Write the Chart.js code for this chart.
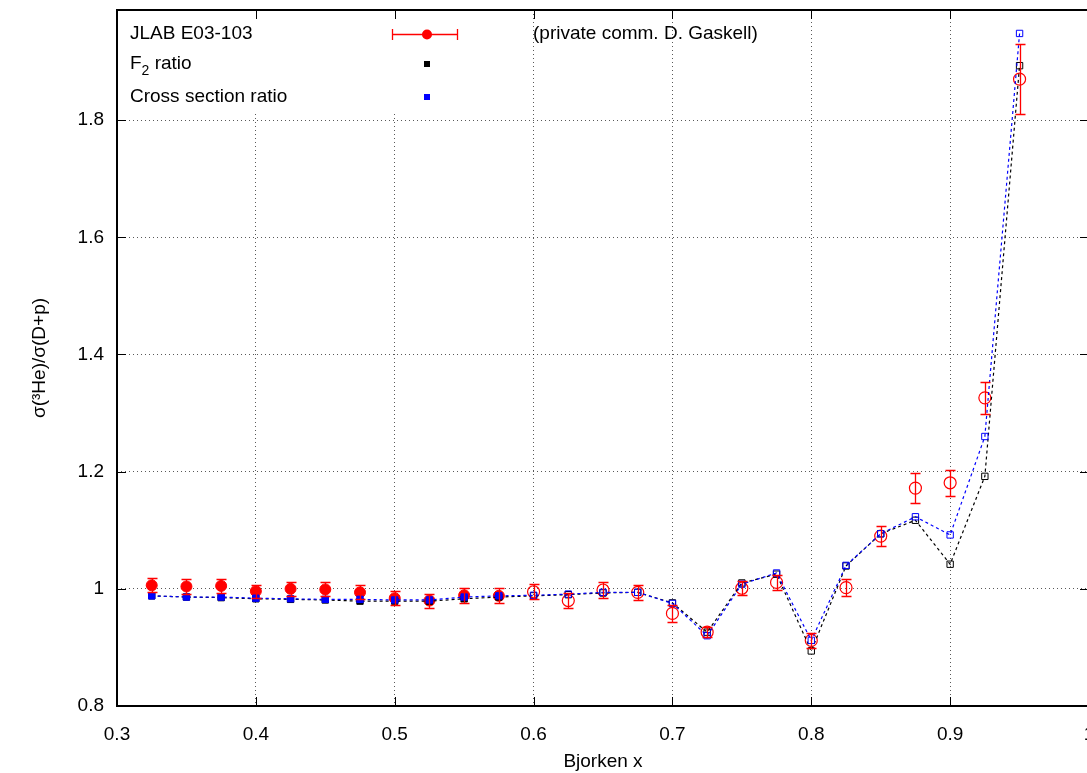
<!DOCTYPE html>
<html>
<head>
<meta charset="utf-8">
<script src="https://cdn.jsdelivr.net/npm/chart.js@4.4.1/dist/chart.umd.min.js"></script>
<style>
  body { margin: 0; overflow: hidden; background: #fff; }
</style>
</head>
<body>
<canvas id="c" width="1100" height="773"></canvas>
<script>
// Bjorken x bins
var bjorkenX = [0.325, 0.35, 0.375, 0.4, 0.425, 0.45, 0.475, 0.5, 0.525, 0.55, 0.575, 0.6, 0.625,
  0.65, 0.675, 0.7, 0.725, 0.75, 0.775, 0.8, 0.825, 0.85, 0.875, 0.9, 0.925, 0.95];
// JLAB E03-103 ratio and its error (filled below x=0.6, open from 0.6 on)
var jlabRatio = [1.006, 1.004, 1.005, 0.996, 1.000, 0.999, 0.994, 0.984, 0.980, 0.989, 0.988, 0.995, 0.980,
  0.998, 0.994, 0.958, 0.926, 1.001, 1.011, 0.912, 1.002, 1.090, 1.172, 1.181, 1.326, 1.870];
var jlabError = [0.012, 0.012, 0.012, 0.011, 0.012, 0.012, 0.012, 0.012, 0.012, 0.013, 0.013, 0.013, 0.013,
  0.013, 0.013, 0.014, 0.009, 0.012, 0.013, 0.013, 0.014, 0.017, 0.026, 0.022, 0.027, 0.060];
var openFrom = 0.6;
// F2 ratio
var f2Ratio = [0.988, 0.986, 0.985, 0.983, 0.982, 0.981, 0.979, 0.979, 0.979, 0.983, 0.986, 0.988, 0.990,
  0.993, 0.994, 0.976, 0.926, 1.010, 1.025, 0.894, 1.039, 1.094, 1.117, 1.042, 1.192, 1.893];
// cross section ratio
var csRatio = [0.988, 0.986, 0.986, 0.984, 0.983, 0.982, 0.982, 0.981, 0.981, 0.986, 0.988, 0.989, 0.991,
  0.994, 0.994, 0.975, 0.920, 1.008, 1.027, 0.912, 1.040, 1.094, 1.123, 1.092, 1.260, 1.948];
// axis ranges
var xTicks = [0.3, 0.4, 0.5, 0.6, 0.7, 0.8, 0.9, 1.0];
var yTicks = [0.8, 1.0, 1.2, 1.4, 1.6, 1.8];
var xMin = 0.3, xMax = 1.0, yMin = 0.8, yMax = 1.988;

var FONT = "'Liberation Sans', Arial, Helvetica, sans-serif";

function points(vals, keep) {
  var out = [];
  bjorkenX.forEach(function (x, i) {
    if (keep(x)) out.push({ x: x, y: vals[i] });
  });
  return out;
}
function errs(keep) {
  return jlabError.filter(function (e, i) { return keep(bjorkenX[i]); });
}
var isFilled = function (x) { return x < openFrom; };
var isOpen = function (x) { return x >= openFrom; };

//white box under the key, covers the grid
var keyMask = {
  id: "keyMask",
  beforeDatasetsDraw(chart) {
    var ctx = chart.ctx, a = chart.chartArea;
    ctx.save();
    ctx.fillStyle = "#fff";
    ctx.fillRect(a.left + 1, a.top + 1, 485 - a.left, 113 - a.top);
    ctx.restore();
  },
};

//error bars of the JLAB points, on top of the lines
var errorBars = {
  id: "errorBars",
  afterDatasetsDraw(chart) {
    var ctx = chart.ctx, xs = chart.scales.x, ys = chart.scales.y;
    ctx.save();
    ctx.setLineDash([]);
    ctx.strokeStyle = "#ff0000";
    ctx.lineWidth = 1.3;
    chart.data.datasets.forEach(function (ds) {
      if (!ds.errors) return;
      ds.data.forEach(function (p, i) {
        var px = Math.round(xs.getPixelForValue(p.x)) + 0.5;
        var top = Math.round(ys.getPixelForValue(p.y + ds.errors[i])) + 0.5;
        var bot = Math.round(ys.getPixelForValue(p.y - ds.errors[i])) + 0.5;
        ctx.beginPath();
        ctx.moveTo(px, top); ctx.lineTo(px, bot);
        ctx.moveTo(px - 5, top); ctx.lineTo(px + 5, top);
        ctx.moveTo(px - 5, bot); ctx.lineTo(px + 5, bot);
        ctx.stroke();
      });
    });
    ctx.restore();
  },
};

//border with inward ticks on all four sides
var frame = {
  id: "frame",
  afterDatasetsDraw(chart) {
    var ctx = chart.ctx, a = chart.chartArea, xs = chart.scales.x, ys = chart.scales.y;
    ctx.save();
    ctx.setLineDash([]);
    ctx.strokeStyle = "#000";
    ctx.lineWidth = 1;
    ctx.beginPath();
    xTicks.forEach(function (v) {
      var px = Math.round(xs.getPixelForValue(v)) + 0.5;
      ctx.moveTo(px, a.bottom); ctx.lineTo(px, a.bottom - 9);
      ctx.moveTo(px, a.top); ctx.lineTo(px, a.top + 9);
    });
    yTicks.forEach(function (v) {
      var py = Math.round(ys.getPixelForValue(v)) + 0.5;
      ctx.moveTo(a.left, py); ctx.lineTo(a.left + 9, py);
      ctx.moveTo(a.right, py); ctx.lineTo(a.right - 9, py);
    });
    ctx.stroke();
    ctx.lineWidth = 2;
    ctx.strokeRect(a.left, a.top, a.right - a.left, a.bottom - a.top);
    ctx.restore();
  },
};

//the key, drawn by hand like gnuplot does it
var key = {
  id: "key",
  afterDraw(chart) {
    var ctx = chart.ctx;
    ctx.save();
    ctx.setLineDash([]);
    ctx.fillStyle = "#000";
    ctx.textBaseline = "middle";
    ctx.font = "19px " + FONT;
    ctx.fillText("JLAB E03-103", 130, 34);
    ctx.fillText("(private comm. D. Gaskell)", 533, 34);
    ctx.fillText("F", 130, 64);
    var fw = ctx.measureText("F").width;
    ctx.font = "14px " + FONT;
    ctx.fillText("2", 130 + fw, 71);
    var sw = ctx.measureText("2").width;
    ctx.font = "19px " + FONT;
    ctx.fillText(" ratio", 130 + fw + sw, 64);
    ctx.fillText("Cross section ratio", 130, 97);

    // red sample with error bar
    ctx.strokeStyle = "#ff0000";
    ctx.lineWidth = 1.3;
    ctx.beginPath();
    ctx.moveTo(392, 34.5); ctx.lineTo(457, 34.5);
    ctx.moveTo(392.5, 29); ctx.lineTo(392.5, 40);
    ctx.moveTo(457.5, 29); ctx.lineTo(457.5, 40);
    ctx.stroke();
    ctx.fillStyle = "#ff0000";
    ctx.beginPath();
    ctx.arc(427, 34.5, 5, 0, Math.PI * 2);
    ctx.fill();
    ctx.fillStyle = "#000";
    ctx.fillRect(424, 61, 6, 6);
    ctx.fillStyle = "#0000ff";
    ctx.fillRect(424, 94, 6, 6);
    ctx.restore();
  },
};

var openOrFill = function (color) {
  return function (c) {
    var p = c.raw;
    return p && p.x < openFrom ? color : "rgba(255,255,255,0)";
  };
};

var data = {
  datasets: [
    {
      label: "JLAB E03-103",
      data: points(jlabRatio, isFilled),
      errors: errs(isFilled),
      showLine: false,
      pointStyle: "circle",
      pointRadius: 5.5,
      pointBackgroundColor: "#ff0000",
      pointBorderColor: "#ff0000",
      pointBorderWidth: 1,
      order: 4,
    },
    {
      label: "(private comm. D. Gaskell)",
      data: points(jlabRatio, isOpen),
      errors: errs(isOpen),
      showLine: false,
      pointStyle: "circle",
      pointRadius: 6,
      pointBackgroundColor: "rgba(255,255,255,0)",
      pointBorderColor: "#ff0000",
      pointBorderWidth: 1.2,
      order: 3,
    },
    {
      label: "F2 ratio",
      data: points(f2Ratio, function () { return true; }),
      showLine: true,
      borderColor: "#000",
      borderWidth: 1.2,
      borderDash: [3, 3],
      pointStyle: "rect",
      pointRadius: 4.5,
      pointBorderWidth: 1,
      pointBorderColor: "#000",
      pointBackgroundColor: openOrFill("#000"),
      order: 2,
    },
    {
      label: "Cross section ratio",
      data: points(csRatio, function () { return true; }),
      showLine: true,
      borderColor: "#0000ff",
      borderWidth: 1.2,
      borderDash: [3, 3],
      pointStyle: "rect",
      pointRadius: 4.5,
      pointBorderWidth: 1,
      pointBorderColor: "#0000ff",
      pointBackgroundColor: openOrFill("#0000ff"),
      order: 1,
    },
  ],
};

var gridStyle = {
  color: "rgba(0,0,0,0.65)",
  lineWidth: 1,
  drawTicks: false,
};

//no extra room for labels at the ends of the axes
function noPad(s) {
  s.paddingTop = 0;
  s.paddingBottom = 0;
  s.paddingLeft = 0;
  s.paddingRight = 0;
}

new Chart(document.getElementById("c"), {
  type: "scatter",
  data: data,
  options: {
    responsive: false,
    devicePixelRatio: 1,
    animation: false,
    layout: { padding: { top: 10, right: 11, left: 0, bottom: 0 } },
    plugins: { legend: { display: false }, tooltip: { enabled: false } },
    scales: {
      x: {
        type: "linear",
        min: xMin,
        max: xMax,
        afterFit: function (s) { s.height = 67; noPad(s); },
        afterBuildTicks: function (s) {
          s.ticks = xTicks.map(function (v) { return { value: v }; });
        },
        ticks: {
          padding: 17,
          color: "#000",
          font: { family: FONT, size: 19 },
          maxRotation: 0,
          callback: function (v) { return String(+(+v).toFixed(1)); },
        },
        grid: gridStyle,
        border: { display: false, dash: [1, 3] },
        title: {
          display: true,
          text: "Bjorken x",
          color: "#000",
          font: { family: FONT, size: 19 },
          padding: { top: 0, bottom: 0 },
        },
      },
      y: {
        type: "linear",
        min: yMin,
        max: yMax,
        afterFit: function (s) { s.width = 117; noPad(s); },
        afterBuildTicks: function (s) {
          s.ticks = yTicks.map(function (v) { return { value: v }; });
        },
        ticks: {
          padding: 13,
          color: "#000",
          font: { family: FONT, size: 19 },
          callback: function (v) { return String(+(+v).toFixed(1)); },
        },
        grid: gridStyle,
        border: { display: false, dash: [1, 3] },
        title: {
          display: true,
          text: "σ(³He)/σ(D+p)",
          color: "#000",
          font: { family: FONT, size: 19 },
          padding: { top: 28, bottom: 0 },
        },
      },
    },
  },
  plugins: [keyMask, errorBars, frame, key],
});
</script>
</body>
</html>
